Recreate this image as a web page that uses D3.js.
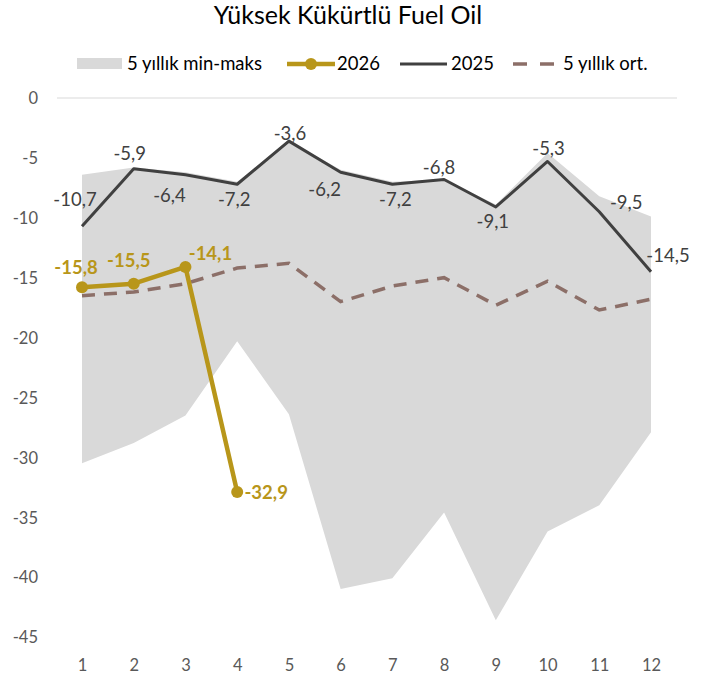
<!DOCTYPE html>
<html>
<head>
<meta charset="utf-8">
<script src="https://cdn.jsdelivr.net/npm/d3@7"></script>
<style>
  html, body { margin: 0; padding: 0; background: #fff; }
  svg { display: block; }
  text { font-family: Lato, "Noto Sans", sans-serif; }
</style>
</head>
<body>
<div id="chart"></div>
<script>
// ---- data ----
const months = [1, 2, 3, 4, 5, 6, 7, 8, 9, 10, 11, 12];
const rangeMax = [-6.4, -5.8, -6.2, -7.0, -3.6, -6.0, -7.0, -6.8, -8.9, -4.6, -8.2, -9.9];
const rangeMin = [-30.5, -28.8, -26.5, -20.3, -26.4, -41.0, -40.1, -34.6, -43.6, -36.2, -34.0, -27.9];
const series2026 = [-15.8, -15.5, -14.1, -32.9];
const series2025 = [-10.7, -5.9, -6.4, -7.2, -3.6, -6.2, -7.2, -6.8, -9.1, -5.3, -9.5, -14.5];
const avg5y = [-16.5, -16.2, -15.5, -14.2, -13.8, -17.0, -15.7, -15.0, -17.3, -15.3, -17.7, -16.8];
const yTicks = [0, -5, -10, -15, -20, -25, -30, -35, -40, -45];
const titleText = "Yüksek Kükürtlü Fuel Oil";
const legendLabels = ["5 yıllık min-maks", "2026", "2025", "5 yıllık ort."];

// label placement (offsets from the point, px)
const off2025 = [[-7,-27],[-4,-15],[-16,21],[-3,15],[1,-8],[-16,17],[3,15],[-5,-12],[-3,15],[1,-13],[27,-9],[17,-16]];
const off2026 = [[-6,-20],[-5,-23],[25,-13],[29,0]];

// ---- style ----
const W = 721, H = 684;
const C_BAND = "#D9D9D9", C_2026 = "#B8961A", C_2025 = "#404040", C_AVG = "#8C6F68", C_AXIS = "#595959";
const fmt = v => String(v.toFixed(1)).replace(".", ",");

const svg = d3.select("#chart").append("svg").attr("width", W).attr("height", H);

const x = d3.scalePoint().domain(months).range([82, 651]);
const y = d3.scaleLinear().domain([-45, 0]).range([637, 98]);

// title
svg.append("text").attr("x", 348).attr("y", 24).attr("text-anchor", "middle")
  .attr("font-size", 25).attr("fill", "#000").text(titleText);

// gridline at 0
svg.append("line").attr("x1", 57).attr("x2", 677).attr("y1", y(0)).attr("y2", y(0))
  .attr("stroke", C_BAND).attr("stroke-width", 1);

// y axis
const yAxis = d3.axisLeft(y).tickValues(yTicks).tickSize(0).tickPadding(0).tickFormat(d => d);
const gy = svg.append("g").attr("transform", "translate(38,0)").call(yAxis);
gy.select(".domain").remove();
gy.selectAll("text").attr("font-size", 16.5).attr("fill", C_AXIS).attr("font-family", "Lato, sans-serif").attr("dy", "0.35em");

// x axis
const xAxis = d3.axisBottom(x).tickSize(0).tickPadding(0);
const gx = svg.append("g").attr("transform", "translate(0,659)").call(xAxis);
gx.select(".domain").remove();
gx.selectAll("text").attr("font-size", 16.5).attr("fill", C_AXIS).attr("font-family", "Lato, sans-serif").attr("dy", "0.71em");

// band
const bandData = months.map((m, i) => ({ m, lo: rangeMin[i], hi: rangeMax[i] }));
svg.append("path").datum(bandData)
  .attr("d", d3.area().x(d => x(d.m)).y0(d => y(d.lo)).y1(d => y(d.hi)))
  .attr("fill", C_BAND);

// 5y average
svg.append("path").datum(months.map((m, i) => ({ m, v: avg5y[i] })))
  .attr("d", d3.line().x(d => x(d.m)).y(d => y(d.v)))
  .attr("fill", "none").attr("stroke", C_AVG).attr("stroke-width", 3.5)
  .attr("stroke-dasharray", "13,9");

// 2025
const d2025 = months.map((m, i) => ({ m, v: series2025[i] }));
svg.append("path").datum(d2025)
  .attr("d", d3.line().x(d => x(d.m)).y(d => y(d.v)))
  .attr("fill", "none").attr("stroke", C_2025).attr("stroke-width", 3).attr("stroke-linejoin", "round");

// 2026
const d2026 = series2026.map((v, i) => ({ m: months[i], v }));
svg.append("path").datum(d2026)
  .attr("d", d3.line().x(d => x(d.m)).y(d => y(d.v)))
  .attr("fill", "none").attr("stroke", C_2026).attr("stroke-width", 4.5).attr("stroke-linejoin", "round");
svg.selectAll("circle.p26").data(d2026).enter().append("circle")
  .attr("cx", d => x(d.m)).attr("cy", d => y(d.v)).attr("r", 6).attr("fill", C_2026);

// labels 2025
svg.selectAll("text.l25").data(d2025).enter().append("text")
  .attr("x", (d, i) => x(d.m) + off2025[i][0]).attr("y", (d, i) => y(d.v) + off2025[i][1])
  .attr("dy", "0.35em").attr("text-anchor", "middle").attr("font-size", 18.5).attr("fill", C_2025)
  .text(d => fmt(d.v));

// labels 2026
svg.selectAll("text.l26").data(d2026).enter().append("text")
  .attr("x", (d, i) => x(d.m) + off2026[i][0]).attr("y", (d, i) => y(d.v) + off2026[i][1])
  .attr("dy", "0.35em").attr("text-anchor", "middle").attr("font-size", 18.5).attr("font-weight", "bold")
  .attr("fill", C_2026).text(d => fmt(d.v));

// legend
const lg = svg.append("g").attr("font-size", 18.5).attr("fill", "#000");
const ly = 64;
lg.append("rect").attr("x", 77).attr("y", 58).attr("width", 45).attr("height", 11).attr("fill", C_BAND);
lg.append("text").attr("x", 127).attr("y", ly).attr("dy", "0.35em").text(legendLabels[0]);
lg.append("line").attr("x1", 287).attr("x2", 335).attr("y1", ly).attr("y2", ly).attr("stroke", C_2026).attr("stroke-width", 4.5);
lg.append("circle").attr("cx", 311).attr("cy", ly).attr("r", 6).attr("fill", C_2026);
lg.append("text").attr("x", 337).attr("y", ly).attr("dy", "0.35em").text(legendLabels[1]);
lg.append("line").attr("x1", 400).attr("x2", 447).attr("y1", ly).attr("y2", ly).attr("stroke", C_2025).attr("stroke-width", 3);
lg.append("text").attr("x", 451).attr("y", ly).attr("dy", "0.35em").text(legendLabels[2]);
lg.append("line").attr("x1", 513).attr("x2", 556).attr("y1", ly).attr("y2", ly).attr("stroke", C_AVG).attr("stroke-width", 3.5).attr("stroke-dasharray", "14,13");
lg.append("text").attr("x", 563).attr("y", ly).attr("dy", "0.35em").text(legendLabels[3]);
</script>
</body>
</html>
